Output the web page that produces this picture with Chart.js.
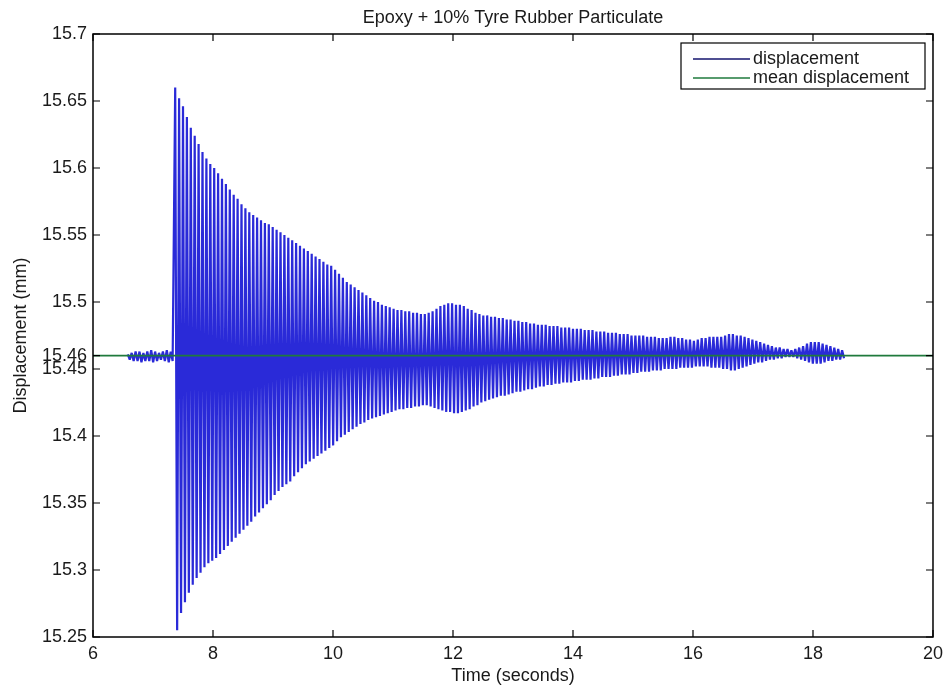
<!DOCTYPE html>
<html>
<head>
<meta charset="utf-8">
<title>Epoxy + 10% Tyre Rubber Particulate</title>
<script src="https://cdn.jsdelivr.net/npm/chart.js@4.4.1/dist/chart.umd.min.js"></script>
<style>
  html, body { margin: 0; padding: 0; background: #fff; }
  #wrap { width: 949px; height: 691px; position: relative; }
</style>
</head>
<body>
<div id="wrap"><canvas id="myChart" width="949" height="691"></canvas></div>
<script>
// values, one high/low pair per oscillation cycle
const cyclePeriod = 0.065;

const preStart = 6.58;
const preHigh = [15.461, 15.462, 15.463, 15.463, 15.462, 15.463, 15.464, 15.463, 15.462, 15.463, 15.464, 15.463];
const preLow = [15.457, 15.456, 15.456, 15.455, 15.456, 15.456, 15.455, 15.456, 15.457, 15.456, 15.455, 15.456];

const mainStart = 7.37;
const peakHigh = [
  15.660, 15.652, 15.646, 15.638, 15.630, 15.624, 15.618, 15.612, 15.607, 15.603,
  15.600, 15.596, 15.592, 15.588, 15.584, 15.580, 15.577, 15.573, 15.570, 15.567,
  15.565, 15.563, 15.561, 15.559, 15.558, 15.556, 15.554, 15.552, 15.550, 15.548,
  15.546, 15.544, 15.542, 15.540, 15.538, 15.536, 15.534, 15.532, 15.530, 15.528,
  15.527, 15.524, 15.521, 15.518, 15.515, 15.513, 15.511, 15.509, 15.507, 15.505,
  15.503, 15.501, 15.500, 15.498, 15.497, 15.496, 15.495, 15.494, 15.494, 15.493,
  15.493, 15.492, 15.492, 15.491, 15.491, 15.492, 15.493, 15.495, 15.497, 15.498,
  15.499, 15.499, 15.498, 15.498, 15.497, 15.495, 15.494, 15.492, 15.491, 15.490,
  15.490, 15.489, 15.489, 15.488, 15.488, 15.487, 15.487, 15.486, 15.486, 15.485,
  15.485, 15.484, 15.484, 15.483, 15.483, 15.483, 15.482, 15.482, 15.482, 15.481,
  15.481, 15.481, 15.480, 15.480, 15.480, 15.479, 15.479, 15.479, 15.478, 15.478,
  15.478, 15.477, 15.477, 15.477, 15.476, 15.476, 15.476, 15.475, 15.475, 15.475,
  15.475, 15.474, 15.474, 15.474, 15.473, 15.473, 15.473, 15.474, 15.474, 15.473,
  15.473, 15.472, 15.472, 15.471, 15.472, 15.473, 15.473, 15.474, 15.474, 15.474,
  15.474, 15.475, 15.476, 15.476, 15.475, 15.475, 15.474, 15.473, 15.472, 15.471,
  15.470, 15.469, 15.468, 15.467, 15.466, 15.466, 15.465, 15.465, 15.464, 15.465,
  15.466, 15.467, 15.469, 15.470, 15.470, 15.470, 15.469, 15.468, 15.467, 15.466,
  15.465, 15.464
];
const peakLow = [
  15.255, 15.268, 15.276, 15.283, 15.289, 15.294, 15.298, 15.302, 15.305, 15.307,
  15.309, 15.312, 15.315, 15.318, 15.321, 15.324, 15.327, 15.330, 15.333, 15.336,
  15.340, 15.343, 15.346, 15.349, 15.352, 15.356, 15.359, 15.362, 15.364, 15.366,
  15.370, 15.373, 15.376, 15.379, 15.381, 15.383, 15.385, 15.387, 15.389, 15.391,
  15.393, 15.396, 15.399, 15.401, 15.403, 15.405, 15.407, 15.409, 15.410, 15.412,
  15.413, 15.414, 15.415, 15.416, 15.417, 15.418, 15.419, 15.420, 15.420, 15.421,
  15.421, 15.422, 15.422, 15.423, 15.423, 15.422, 15.421, 15.420, 15.419, 15.418,
  15.418, 15.417, 15.417, 15.418, 15.419, 15.420, 15.422, 15.423, 15.425, 15.426,
  15.427, 15.428, 15.429, 15.430, 15.430, 15.431, 15.432, 15.433, 15.433, 15.434,
  15.435, 15.435, 15.436, 15.437, 15.437, 15.438, 15.438, 15.439, 15.439, 15.440,
  15.440, 15.440, 15.441, 15.441, 15.442, 15.442, 15.442, 15.443, 15.443, 15.444,
  15.444, 15.444, 15.445, 15.445, 15.446, 15.446, 15.446, 15.447, 15.447, 15.448,
  15.448, 15.448, 15.449, 15.449, 15.449, 15.450, 15.450, 15.450, 15.450, 15.451,
  15.451, 15.451, 15.451, 15.452, 15.452, 15.452, 15.452, 15.451, 15.451, 15.451,
  15.450, 15.450, 15.449, 15.449, 15.450, 15.451, 15.452, 15.453, 15.454, 15.455,
  15.455, 15.456, 15.457, 15.457, 15.458, 15.458, 15.459, 15.459, 15.459, 15.458,
  15.457, 15.456, 15.455, 15.454, 15.454, 15.454, 15.455, 15.456, 15.456, 15.457,
  15.457, 15.458
];

const meanDisplacement = 15.46;
const xTicks = [6, 8, 10, 12, 14, 16, 18, 20];
const yTicks = [15.25, 15.3, 15.35, 15.4, 15.45, 15.46, 15.5, 15.55, 15.6, 15.65, 15.7];

const FONT = '"Liberation Sans", Arial, Helvetica, sans-serif';
const TEXT = "#1a1a1a";

function cyclesToPoints(start, highs, lows) {
  const pts = [];
  for (let i = 0; i < highs.length; i++) {
    pts.push({ x: start + i * cyclePeriod, y: highs[i] });
    pts.push({ x: start + (i + 0.5) * cyclePeriod, y: lows[i] });
  }
  return pts;
}

const displacement = cyclesToPoints(preStart, preHigh, preLow)
  .concat(cyclesToPoints(mainStart, peakHigh, peakLow));

// MATLAB-ish frame: box, inward ticks on all sides, title, legend
const matlabFrame = {
  id: "matlabFrame",
  afterDraw(chart) {
    const { ctx, chartArea: a, scales } = chart;
    ctx.save();
    ctx.strokeStyle = "#000";
    ctx.lineWidth = 1.5;
    ctx.strokeRect(a.left, a.top, a.right - a.left, a.bottom - a.top);

    ctx.lineWidth = 1.2;
    const tl = 7;
    ctx.beginPath();
    xTicks.forEach(function (v) {
      const px = scales.x.getPixelForValue(v);
      ctx.moveTo(px, a.bottom); ctx.lineTo(px, a.bottom - tl);
      ctx.moveTo(px, a.top); ctx.lineTo(px, a.top + tl);
    });
    yTicks.forEach(function (v) {
      const py = scales.y.getPixelForValue(v);
      ctx.moveTo(a.left, py); ctx.lineTo(a.left + tl, py);
      ctx.moveTo(a.right, py); ctx.lineTo(a.right - tl, py);
    });
    ctx.stroke();

    // title
    ctx.fillStyle = TEXT;
    ctx.font = "18px " + FONT;
    ctx.textAlign = "center";
    ctx.textBaseline = "alphabetic";
    ctx.fillText("Epoxy + 10% Tyre Rubber Particulate", (a.left + a.right) / 2, 23);

    // legend box
    const bx = 681, by = 43, bw = 244, bh = 46;
    ctx.fillStyle = "#fff";
    ctx.fillRect(bx, by, bw, bh);
    ctx.strokeStyle = "#000";
    ctx.lineWidth = 1.2;
    ctx.strokeRect(bx, by, bw, bh);
    const rows = [
      { text: "displacement", color: "#14146e", y: 59 },
      { text: "mean displacement", color: chart.data.datasets[1].borderColor, y: 78 },
    ];
    ctx.textAlign = "left";
    rows.forEach(function (r) {
      ctx.strokeStyle = r.color;
      ctx.lineWidth = 1.5;
      ctx.beginPath();
      ctx.moveTo(693, r.y); ctx.lineTo(750, r.y);
      ctx.stroke();
      ctx.fillStyle = TEXT;
      ctx.fillText(r.text, 753, r.y + 5);
    });
    ctx.restore();
  },
};

const ctx = document.getElementById("myChart").getContext("2d");

const config = {
  type: "line",
  data: {
    datasets: [
      {
        label: "displacement",
        data: displacement,
        borderColor: "#2a2ad8",
        borderWidth: 2.2,
        borderJoinStyle: "bevel",
        pointRadius: 0,
        tension: 0,
        fill: false,
        order: 2,
      },
      {
        label: "mean displacement",
        data: [{ x: xTicks[0], y: meanDisplacement }, { x: xTicks[xTicks.length - 1], y: meanDisplacement }],
        borderColor: "#1f7a3c",
        borderWidth: 1.6,
        pointRadius: 0,
        fill: false,
        order: 1,
      },
    ],
  },
  options: {
    responsive: false,
    animation: false,
    layout: { padding: { left: 0, right: 15, top: 34, bottom: 0 } },
    plugins: {
      legend: { display: false },
      title: { display: false },
      tooltip: { enabled: false },
    },
    scales: {
      x: {
        type: "linear",
        min: 6,
        max: 20,
        afterBuildTicks: function (scale) {
          scale.ticks = xTicks.map(function (v) { return { value: v }; });
        },
        afterFit: function (scale) { scale.height = 54; },
        grid: { display: false, drawTicks: false },
        border: { display: false },
        ticks: {
          autoSkip: false,
          maxRotation: 0,
          padding: 6,
          color: TEXT,
          font: { family: FONT, size: 18 },
        },
        title: {
          display: true,
          text: "Time (seconds)",
          color: TEXT,
          font: { family: FONT, size: 18 },
          padding: { top: 0, bottom: 4 },
        },
      },
      y: {
        type: "linear",
        min: 15.25,
        max: 15.7,
        afterBuildTicks: function (scale) {
          scale.ticks = yTicks.map(function (v) { return { value: v }; });
        },
        afterFit: function (scale) { scale.width = 93; },
        grid: { display: false, drawTicks: false },
        border: { display: false },
        ticks: {
          autoSkip: false,
          padding: 6,
          color: TEXT,
          font: { family: FONT, size: 18 },
          callback: function (v) { return String(Number(v.toFixed(3))); },
        },
        title: {
          display: true,
          text: "Displacement (mm)",
          color: TEXT,
          font: { family: FONT, size: 18 },
          padding: { top: 10, bottom: 0 },
        },
      },
    },
  },
  plugins: [matlabFrame],
};

const myChart = new Chart(ctx, config);
</script>
</body>
</html>
